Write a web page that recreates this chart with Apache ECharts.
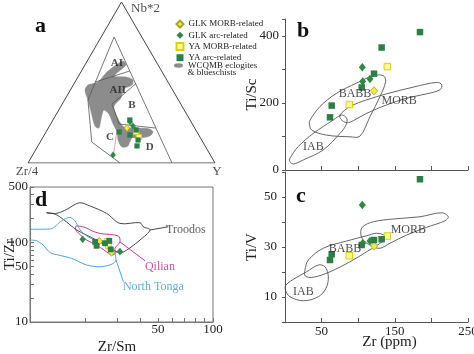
<!DOCTYPE html>
<html><head><meta charset="utf-8">
<script src="https://cdn.jsdelivr.net/npm/echarts@6/dist/echarts.min.js"></script>
<style>html,body{margin:0;padding:0;background:#fff}#c{width:474px;height:354px}</style>
</head><body><div id="c"></div>
<script>
// ================= DATA =================
const groups = ['GLK MORB-related', 'GLK arc-related', 'YA MORB-related', 'YA arc-related'];
const fieldGroup = 'WCQMB eclogites';
const fieldGroupLine2 = '& blueschists';

// ---- Panel a: ternary Zr/4 - Nb*2 - Y, values as [Zr/4, Nb*2, Y] in % ----
const ternVertices = [[100, 0, 0], [0, 100, 0], [0, 0, 100]];
const ternVertexLabels = ['Zr/4', 'Nb*2', 'Y'];
const boundLeft = [[14.8, 78.3, 6.9], [48.4, 39.1, 12.5], [59.4, 13.0, 27.6], [50.8, 0, 49.2]];
const boundRight = [[14.8, 78.3, 6.9], [23.0, 0, 77.0]];
const boundAIAII = [[38.9, 50.3, 10.8], [17.2, 57.1, 25.7]];
const boundAIIB = [[17.9, 49.1, 33.0], [36.8, 36.6, 26.6]];
const boundBC = [[36.8, 36.6, 26.6], [39.2, 24.2, 36.6]];
const boundBD = [[39.2, 24.2, 36.6], [20.8, 21.7, 57.5]];
const boundCD = [[42.1, 20.5, 37.4], [53.0, 3.1, 43.9]];
const wcqmbField = [[17.5, 63.4, 19.1], [17.1, 60.9, 22.0], [27.0, 54.0, 19.0], [20.9, 53.4, 25.7], [18.1, 51.6, 30.3],
  [20.2, 48.4, 31.4], [25.7, 46.0, 28.3], [30.1, 40.4, 29.5], [36.3, 35.4, 28.3], [37.6, 31.7, 30.7], [38.2, 26.1, 35.7],
  [37.5, 22.4, 40.1], [29.3, 21.7, 49.0], [24.3, 21.1, 54.6], [23.5, 19.3, 57.2], [26.4, 16.8, 56.8], [32.4, 15.5, 52.1],
  [36.7, 15.5, 47.8], [41.2, 10.6, 48.2], [44.8, 9.9, 45.3], [44.7, 14.3, 41.0], [42.7, 19.3, 38.0], [42.4, 24.2, 33.4],
  [41.5, 30.4, 28.1], [43.0, 32.9, 24.1], [47.7, 26.7, 25.6], [51.2, 21.7, 27.1], [52.7, 23.0, 24.3], [50.4, 31.7, 17.9],
  [48.4, 39.1, 12.5], [46.9, 45.3, 7.8], [43.7, 48.4, 7.9], [37.5, 50.3, 12.2], [28.7, 57.1, 14.2]];
const ternFieldNames = ['AI', 'AII', 'B', 'C', 'D'];
const ternFieldPos = [[21.4, 62.1, 16.5], [29.3, 45.3, 25.4], [26.4, 36.0, 37.6], [48.1, 16.1, 35.8], [29.9, 9.9, 60.2]];
const aGLKMorb = [[36.2, 21.7, 42.1], [32.5, 17.4, 50.1]];
const aGLKArc = [[32.7, 25.5, 41.8], [32.4, 23.0, 44.6], [32.5, 20.5, 47.0], [52.0, 5.0, 43.0]];
const aYAMorb = [[32.5, 19.3, 48.2], [32.6, 16.1, 51.3]];
const aYAArc = [[41.6, 19.3, 39.1], [32.2, 26.7, 41.1], [36.8, 17.4, 45.8], [31.9, 20.5, 47.6], [34.0, 14.3, 51.7], [36.4, 10.6, 53.0]];

// ---- Panels b & c: Zr (ppm) vs Ti/Sc and Ti/V ----
const zrGLKMorb = [121.6];               const tiScGLKMorb = [236];            const tiVGLKMorb = [30.4];
const zrGLKArc = [105.6, 106.1, 116.1];  const tiScGLKArc = [306, 264, 271];   const tiVGLKArc = [46.8, 31.5, 32.4];
const zrYAMorb = [139.8, 87.8];          const tiScYAMorb = [308, 195];        const tiVYAMorb = [34.4, 26.5];
const zrYAArc = [184.4, 132.0, 121.6, 104.8, 63.8, 61.5];
const tiScYAArc = [411, 365, 287, 246, 192, 157];
const tiVYAArc = [57.1, 33.1, 32.8, 30.8, 27.1, 24.8];
const bBABB = [[34.2, 149], [47.8, 189], [70.6, 229], [97.9, 259], [120.7, 281], [134.3, 281], [137.5, 264], [129.8, 219],
  [116.1, 159], [102.5, 101], [88.8, 99], [56.9, 104], [36.4, 119], [33.3, 139]];
const bMORB = [[75.1, 164], [88.8, 189], [111.6, 209], [138.9, 227], [175.3, 247], [207.2, 261], [214.1, 254], [211.7, 239],
  [193.6, 227], [166.3, 214], [138.9, 194], [111.6, 169], [93.3, 147], [84.3, 141], [76.5, 151]];
const bIAB = [[6.8, 35], [18.2, 70], [38.7, 109], [66.0, 149], [77.4, 164], [84.3, 154], [83.3, 134], [75.1, 109],
  [52.3, 60], [25.0, 30], [11.3, 18], [6.8, 25]];
const bFieldNames = ['BABB', 'MORB', 'IAB'];
const bFieldPos = [[95.6, 226], [156, 206], [38.7, 70]];
const cBABB = [[27.3, 20.8], [31.9, 24.8], [52.3, 29.5], [84.3, 32.4], [111.6, 34.5], [125.3, 35.5], [136.6, 34.4], [134.3, 32.5],
  [111.6, 28.1], [88.8, 24.1], [61.5, 20.1], [38.7, 17.9], [27.7, 18.4]];
const cMORB = [[106.1, 38.1], [120.7, 40.1], [148.0, 41.2], [184.4, 42.1], [214.1, 43.7], [223.1, 42.1], [218.6, 40.5],
  [193.6, 37.9], [166.3, 34.8], [143.4, 31.5], [129.8, 29.5], [118.4, 30.4], [107.0, 32.8], [103.4, 35.5]];
const cIAB = [[1.4, 14.8], [13.7, 17.5], [29.6, 20.1], [45.5, 22.8], [54.6, 22.1], [59.2, 18.1], [56.0, 13.5], [45.5, 10.1],
  [25.0, 8.5], [6.8, 10.1], [0.5, 12.8]];
const cFieldNames = ['MORB', 'BABB', 'IAB'];
const cFieldPos = [[168.5, 36.8], [82, 29.1], [25, 12.1]];

// ---- Panel d: Zr/Sm vs Ti/Zr (log-log) ----
const dGLKMorb = [[23.9, 104], [27.9, 75]];
const dGLKArc = [[19.4, 110], [31.0, 77]];
const dYAMorb = [[26.6, 104], [26.8, 91]];
const dYAArc = [[22.7, 102], [23.1, 91], [25.7, 98], [27.1, 105], [27.6, 82]];
const dTroodos = [[12.3, 237], [14.0, 233], [15.9, 262], [18.6, 317], [21.3, 288], [26.2, 233], [31.0, 174], [39.9, 178],
  [41.6, 158], [45.3, 144], [39.9, 107.5], [31.7, 74.5], [28.5, 80.5], [23.1, 107.5], [18.0, 144], [15.2, 196], [13.7, 228]];
const dTroodosLeader = [[45.3, 144], [57.0, 158]];
const dQilian = [[17.8, 161], [20.0, 155], [21.7, 141], [24.1, 130], [30.4, 121], [31.0, 102], [29.1, 84.5], [29.5, 74.5],
  [27.9, 69.6], [25.7, 78.9], [23.1, 93], [20.4, 107.5], [18.6, 128], [17.8, 144]];
const dQilianLeader = [[31.0, 102], [42.5, 59]];
const dTonga = [[10.0, 147], [12.9, 148], [14.9, 188], [16.5, 207], [17.6, 188], [18.8, 144], [20.8, 118], [24.1, 102],
  [27.9, 88.5], [29.1, 73.1], [29.5, 60.3], [27.9, 53.2], [24.1, 49.6], [20.4, 52.1], [16.9, 63.2], [14.3, 69.6],
  [12.9, 74.5], [11.8, 93], [10.9, 105], [10.1, 107.5]];
const dTongaLeader = [[29.5, 60.3], [32.4, 32.1]];
const dFieldNames = ['Troodos', 'Qilian', 'North Tonga'];
const dFieldPos = [[71, 144], [51.3, 49.6], [47.2, 27.8]];
const dFieldColors = ['#333333', '#c2258a', '#3a98d6'];

const bYTicks = [0, 200, 400];
const cYTicks = [10, 30, 50];
const cXTicks = [50, 150, 250];
const dXTicks = [10, 20, 30, 40, 50, 60, 70, 80, 90, 100];
const dXLabels = [50, 100];
const dYTicks = [10, 20, 30, 40, 50, 60, 70, 80, 90, 100, 200, 300, 400, 500];
const dYLabels = [10, 50, 100, 500];

// ================= CHART =================
const FONT = 'Liberation Serif';
const tern = p => { const s = p[0] + p[1] + p[2]; const nb = p[1] / s, yv = p[2] / s; return [yv + nb / 2, nb]; };
const zip = (a, b) => a.map((v, i) => [v, b[i]]);

const styles = {
  'GLK MORB-related': { symbol: 'diamond', size: [7, 8.5], color: '#f2ee3a', border: '#a8a22a', bw: 0.8 },
  'GLK arc-related': { symbol: 'diamond', size: [7, 8.5], color: '#2f8a47', border: '#2f8a47', bw: 0 },
  'YA MORB-related': { symbol: 'rect', size: [6.5, 6.5], color: '#fbf79c', border: '#dccd18', bw: 1 },
  'YA arc-related': { symbol: 'rect', size: [6.5, 6.5], color: '#2e7e47', border: '#2e7e47', bw: 0 }
};
function scatter(name, gi, data, scale) {
  const s = styles[name];
  return { type: 'scatter', name, xAxisIndex: gi, yAxisIndex: gi, data, symbol: s.symbol,
    symbolSize: s.size.map(v => v * scale), itemStyle: { color: s.color, borderColor: s.border, borderWidth: s.bw, opacity: 1 },
    z: 6, silent: true };
}
function polyline(gi, data, color, width, smooth) {
  return { type: 'line', xAxisIndex: gi, yAxisIndex: gi, data, symbol: 'none', showSymbol: false, smooth: smooth || false,
    lineStyle: { color, width }, z: 3, silent: true };
}
function polygon(gi, pts, color, width, smooth, fill, name, z) {
  return { type: 'custom', name, xAxisIndex: gi, yAxisIndex: gi, data: pts, silent: true, z: z || 3,
    itemStyle: { color: fill || color },
    renderItem: (params, api) => params.dataIndex === 0 ? {
      type: 'polygon', shape: { points: pts.map(p => api.coord(p)), smooth },
      style: { fill: fill || 'none', stroke: color, lineWidth: width } } : null };
}
function textSeries(gi, names, pos, style, offsets) {
  return { type: 'scatter', xAxisIndex: gi, yAxisIndex: gi, symbolSize: 0, silent: true, z: 7,
    data: names.map((n, i) => ({ name: n, value: pos[i], label: Object.assign({}, offsets ? { offset: offsets[i] } : {}) })),
    label: Object.assign({ show: true, position: 'inside', formatter: '{b}', fontFamily: FONT, color: '#222' }, style) };
}

const axisBase = { axisLine: { lineStyle: { color: '#555', width: 1 } }, splitLine: { show: false }, nameMoveOverlap: false,
  axisLabel: { fontFamily: FONT, fontSize: 13, color: '#222' }, nameTextStyle: { fontFamily: FONT, fontSize: 15, color: '#222' } };

const series = [];
// panel a
series.push(polygon(0, wcqmbField.map(tern), '#8a8a8a', 0.5, 0.25, '#8c8c8c', fieldGroup, 2));
series.push(polyline(0, [...ternVertices, ternVertices[0]].map(tern), '#444', 1));
[boundLeft, boundRight, boundAIAII, boundAIIB, boundBC, boundBD].forEach(b => series.push(polyline(0, b.map(tern), '#555', 0.8)));
series.push(polyline(0, boundCD.map(tern), '#d58aa2', 0.8));
series.push(textSeries(0, ternFieldNames, ternFieldPos.map(tern), { fontSize: 11, fontWeight: 'bold' }));
series.push(textSeries(0, ternVertexLabels, ternVertices.map(tern), { fontSize: 13 }, [[-1, 9], [24, 7], [2, 9]]));
series.push(scatter('GLK MORB-related', 0, aGLKMorb.map(tern), 0.8));
series.push(scatter('GLK arc-related', 0, aGLKArc.map(tern), 0.8));
series.push(scatter('YA MORB-related', 0, aYAMorb.map(tern), 0.8));
series.push(scatter('YA arc-related', 0, aYAArc.map(tern), 0.8));
// panel b
[bBABB, bMORB, bIAB].forEach(f => series.push(polygon(1, f, '#555', 0.9, 0.35)));
series.push(textSeries(1, bFieldNames, bFieldPos, { fontSize: 12 }));
series.push(scatter('GLK MORB-related', 1, zip(zrGLKMorb, tiScGLKMorb), 1));
series.push(scatter('GLK arc-related', 1, zip(zrGLKArc, tiScGLKArc), 1));
series.push(scatter('YA MORB-related', 1, zip(zrYAMorb, tiScYAMorb), 1));
series.push(scatter('YA arc-related', 1, zip(zrYAArc, tiScYAArc), 1));
// panel c
[cBABB, cMORB, cIAB].forEach(f => series.push(polygon(2, f, '#555', 0.9, 0.35)));
series.push(textSeries(2, cFieldNames, cFieldPos, { fontSize: 12 }));
series.push(scatter('GLK MORB-related', 2, zip(zrGLKMorb, tiVGLKMorb), 1));
series.push(scatter('GLK arc-related', 2, zip(zrGLKArc, tiVGLKArc), 1));
series.push(scatter('YA MORB-related', 2, zip(zrYAMorb, tiVYAMorb), 1));
series.push(scatter('YA arc-related', 2, zip(zrYAArc, tiVYAArc), 1));
// panel d
series.push(polygon(3, dTroodos, dFieldColors[0], 0.9, 0.3));
series.push(polyline(3, dTroodosLeader, dFieldColors[0], 0.9));
series.push(polygon(3, dQilian, dFieldColors[1], 0.9, 0.3));
series.push(polyline(3, dQilianLeader, dFieldColors[1], 0.9));
series.push(polyline(3, dTonga, dFieldColors[2], 0.9, 0.3));
series.push(polyline(3, dTongaLeader, dFieldColors[2], 0.9));
series.push({ type: 'scatter', xAxisIndex: 3, yAxisIndex: 3, symbolSize: 0, silent: true, z: 7,
  data: dFieldNames.map((n, i) => ({ name: n, value: dFieldPos[i], label: { color: dFieldColors[i] } })),
  label: { show: true, position: 'inside', formatter: '{b}', fontFamily: FONT, fontSize: 12 } });
series.push(scatter('GLK MORB-related', 3, dGLKMorb, 0.9));
series.push(scatter('GLK arc-related', 3, dGLKArc, 0.9));
series.push(scatter('YA MORB-related', 3, dYAMorb, 0.9));
series.push(scatter('YA arc-related', 3, dYAArc, 0.9));

const letter = (t, l, tp) => ({ text: t, left: l, top: tp, padding: 0,
  textStyle: { fontFamily: FONT, fontWeight: 'bold', fontSize: 22, color: '#111' } });

const option = {
  animation: false,
  backgroundColor: '#fff',
  title: [letter('a', 35, 15), letter('b', 297, 20), letter('c', 296, 185), letter('d', 35, 189),
    { text: fieldGroupLine2, left: 187.5, top: 68, padding: 0,
      textStyle: { fontFamily: FONT, fontWeight: 'normal', fontSize: 9, lineHeight: 9, color: '#222' } }],
  legend: [
    { orient: 'vertical', left: 175.5, top: 18.5, padding: 0, itemGap: 0, itemWidth: 7, itemHeight: 7, selectedMode: false,
      data: groups.map(g => ({ name: g })),
      textStyle: { fontFamily: FONT, fontSize: 9, lineHeight: 11.2, color: '#222' } },
    { orient: 'vertical', left: 174, top: 61, padding: 0, itemWidth: 9, itemHeight: 5, selectedMode: false,
      data: [{ name: fieldGroup, icon: 'path://M0,5a10,5 0 1,0 20,0a10,5 0 1,0 -20,0' }],
      textStyle: { fontFamily: FONT, fontSize: 9, lineHeight: 9, color: '#222' } }
  ],
  grid: [
    { left: 28, top: 2, width: 187, height: 161, outerBoundsMode: 'none' },
    { left: 285, top: 19, width: 183, height: 151, outerBoundsMode: 'none' },
    { left: 285, top: 172, width: 183, height: 150, outerBoundsMode: 'none' },
    { left: 30, top: 187, width: 183, height: 135, outerBoundsMode: 'none', show: true, borderColor: '#777', borderWidth: 1 }
  ],
  xAxis: [
    { gridIndex: 0, type: 'value', min: 0, max: 1, show: false },
    Object.assign({}, axisBase, { gridIndex: 1, type: 'value', min: 0, max: 250, interval: 50,
      axisTick: { inside: true, length: 4, lineStyle: { color: '#555' } }, axisLabel: { show: false } }),
    Object.assign({}, axisBase, { gridIndex: 2, type: 'value', min: 0, max: 250, interval: 50, name: 'Zr (ppm)',
      nameLocation: 'middle', nameGap: 13,
      nameTextStyle: { fontFamily: FONT, fontSize: 15, color: '#222', padding: [0, 0, 0, 26] },
      axisTick: { inside: true, length: 4, lineStyle: { color: '#555' } },
      axisLabel: { fontFamily: FONT, fontSize: 13, color: '#222', margin: 3, formatter: v => cXTicks.includes(v) ? String(v) : '' } }),
    Object.assign({}, axisBase, { gridIndex: 3, type: 'log', logBase: 10, min: 10, max: 100, name: 'Zr/Sm',
      nameLocation: 'middle', nameGap: 18,
      nameTextStyle: { fontFamily: FONT, fontSize: 15, color: '#222', padding: [0, 9, 0, 0] },
      axisLine: { lineStyle: { color: '#777' } },
      axisTick: { inside: true, length: 4, customValues: dXTicks, lineStyle: { color: '#777' } },
      axisLabel: { fontFamily: FONT, fontSize: 13, color: '#222', margin: 1, customValues: dXLabels } })
  ],
  yAxis: [
    { gridIndex: 0, type: 'value', min: 0, max: 1, show: false },
    Object.assign({}, axisBase, { gridIndex: 1, type: 'value', min: 0, max: 450, interval: 100, name: 'Ti/Sc',
      nameLocation: 'middle', nameGap: 25,
      axisTick: { inside: false, length: 3, lineStyle: { color: '#555' } },
      axisLabel: { fontFamily: FONT, fontSize: 13, color: '#222', margin: 6, formatter: v => bYTicks.includes(v) ? String(v) : '' } }),
    Object.assign({}, axisBase, { gridIndex: 2, type: 'value', min: 0, max: 60, interval: 10, name: 'Ti/V',
      nameLocation: 'middle', nameGap: 25,
      axisTick: { inside: false, length: 3, lineStyle: { color: '#555' } },
      axisLabel: { fontFamily: FONT, fontSize: 13, color: '#222', margin: 8, formatter: v => cYTicks.includes(v) ? String(v) : '' } }),
    Object.assign({}, axisBase, { gridIndex: 3, type: 'log', logBase: 10, min: 10, max: 500, name: 'Ti/Zr',
      nameLocation: 'middle', nameGap: 12,
      axisLine: { lineStyle: { color: '#777' } },
      axisTick: { inside: true, length: 4, customValues: dYTicks, lineStyle: { color: '#777' } },
      axisLabel: { fontFamily: FONT, fontSize: 13, color: '#222', margin: 2, customValues: dYLabels } })
  ],
  series
};
const chart = echarts.init(document.getElementById('c'), null, { renderer: 'canvas' });
chart.setOption(option);
</script></body></html>
